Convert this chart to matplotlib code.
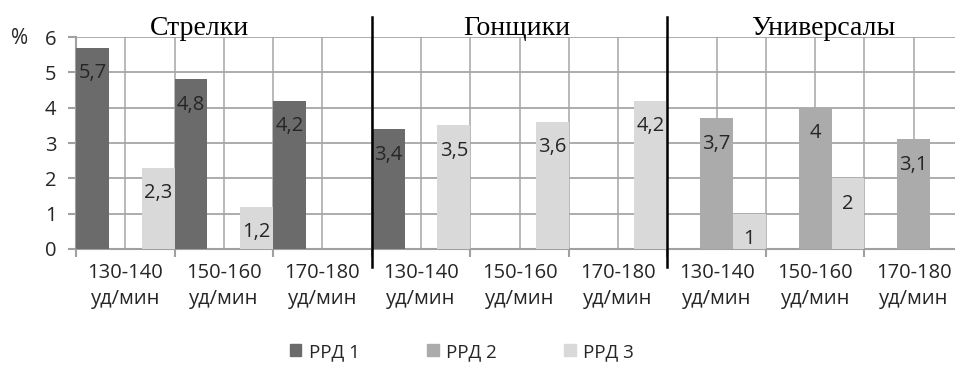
import numpy as np
import matplotlib
matplotlib.use("Agg")
import matplotlib.pyplot as plt
from matplotlib.patches import Patch

categories = ["130-140\nуд/мин", "150-160\nуд/мин", "170-180\nуд/мин"] * 3
groups = ["Стрелки", "Гонщики", "Универсалы"]
series = ["РРД 1", "РРД 2", "РРД 3"]
rrd1 = [5.7, 4.8, 4.2, 3.4, None, None, None, None, None]
rrd2 = [None, None, None, None, None, None, 3.7, 4.0, 3.1]
rrd3 = [2.3, 1.2, None, 3.5, 3.6, 4.2, 1.0, 2.0, None]
values = [rrd1, rrd2, rrd3]
colors = ["#6b6b6b", "#ababab", "#d9d9d9"]

W, H = 955, 367
fig = plt.figure(figsize=(W / 100, H / 100), dpi=100)
ax = fig.add_axes([76 / W, (H - 249) / H, (963 - 76) / W, (249 - 37) / H])

font = ["Open Sans", "DejaVu Sans"]
serif = ["Liberation Serif", "DejaVu Serif"]
txt = "#262626"

n = len(categories)
x = np.arange(n)
bw = 1 / 3
for k, (vals, col) in enumerate(zip(values, colors)):
    for i, v in enumerate(vals):
        if v is None:
            continue
        xc = x[i] + (k - 1) * bw
        ax.bar(xc, v, width=bw, color=col, zorder=3, linewidth=0)
        lab = ("%g" % v).replace(".", ",")
        ax.annotate(lab, (xc, v), xytext=(0, -18.5), textcoords="offset points",
                    ha="center", va="center", fontsize=14.5, color=txt,
                    family=font, zorder=4)

ax.set_xlim(-0.5, n - 0.5)
ax.set_ylim(0, 6)
ax.set_yticks(range(0, 7))
ax.set_xticks(x)
ax.set_xticklabels(categories, family=font, fontsize=14.5, color=txt, linespacing=1.38)
ax.set_xticks(np.arange(-0.5, n, 1.0), minor=True)
ax.tick_params(axis="x", which="major", length=0, pad=10)
ax.tick_params(axis="x", which="minor", length=6, width=1.5, color="#a0a0a0", direction="out")
ax.tick_params(axis="y", length=6, width=1.5, color="#a0a0a0", pad=8, labelsize=14.5, labelcolor=txt)
for t in ax.get_yticklabels():
    t.set_family(font)

ax.grid(True, axis="y", color="#a6a6a6", linewidth=1.3, zorder=1)
ax.grid(True, axis="x", which="both", color="#b3b3b3", linewidth=1.3, zorder=1)
ax.set_axisbelow(True)
for s in ["top", "right"]:
    ax.spines[s].set_visible(False)
for s in ["left", "bottom"]:
    ax.spines[s].set_color("#a0a0a0")
    ax.spines[s].set_linewidth(1.5)

# group separators
for b in [2.5, 5.5]:
    ax.axvline(b, ymin=-0.085, ymax=1.094, color="black", linewidth=1.8, clip_on=False, zorder=5)

# group titles
for g, xc in zip(groups, [0.75, 3.97, 7.08]):
    ax.text(xc, 6.06, g, ha="center", va="baseline", fontsize=20, family=serif,
            color="black", zorder=6)

fig.text(20 / W, 1 - 39 / H, "%", ha="center", va="center", fontsize=15,
         family=font, color=txt)

handles = [Patch(color=c, label=s) for c, s in zip(colors, series)]
fig.legend(handles=handles, loc="center", bbox_to_anchor=(462 / W, 15 / H), ncol=3,
           frameon=False, handlelength=0.6, handleheight=0.6, handletextpad=0.4,
           columnspacing=3.6, prop={"family": font, "size": 13.5}, labelcolor=txt)

fig.savefig("out.png", dpi=100)
